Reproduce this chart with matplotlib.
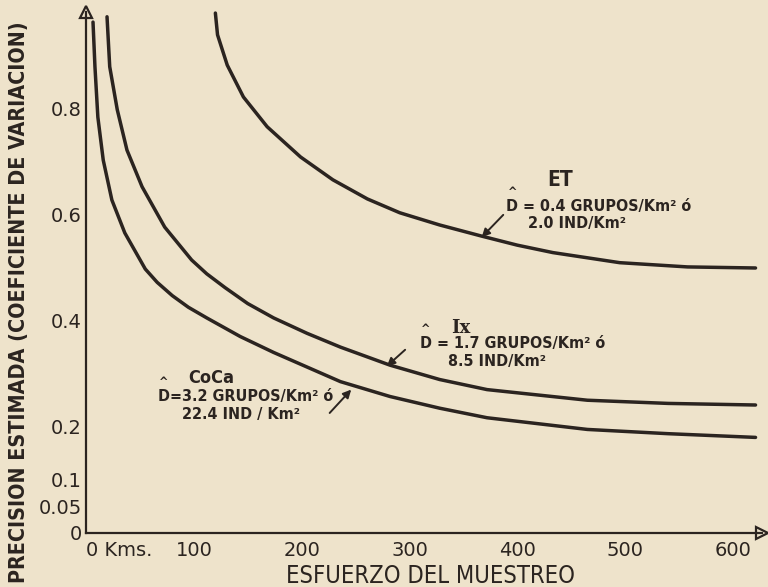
import matplotlib
matplotlib.use("Agg")
import matplotlib.pyplot as plt

# ---- data ----
coca_x = [6.5, 8.3, 11, 16, 24, 36, 55, 66, 80, 95, 112, 143, 174, 236, 282, 328, 372, 465, 540, 621]
coca_y = [0.962, 0.878, 0.783, 0.702, 0.627, 0.565, 0.497, 0.472, 0.447, 0.425, 0.405, 0.370,
          0.340, 0.285, 0.257, 0.235, 0.217, 0.195, 0.187, 0.180]

ix_x = [19.5, 22, 29, 38, 52, 73, 98, 112, 129, 150, 174, 205, 236, 282, 328, 372, 465, 540, 621]
ix_y = [0.972, 0.878, 0.797, 0.721, 0.652, 0.576, 0.514, 0.488, 0.462, 0.432, 0.405, 0.376,
        0.350, 0.316, 0.289, 0.270, 0.250, 0.244, 0.241]

et_x = [120, 122, 131, 146, 168, 199, 229, 261, 291, 328, 367, 400, 433, 495, 558, 621]
et_y = [0.979, 0.938, 0.881, 0.821, 0.765, 0.708, 0.665, 0.629, 0.603, 0.580, 0.559, 0.542,
        0.528, 0.509, 0.501, 0.499]

x_ticks = [0, 100, 200, 300, 400, 500, 600]
x_tick_labels = ["0 Kms.", "100", "200", "300", "400", "500", "600"]
y_ticks = [0, 0.05, 0.1, 0.2, 0.4, 0.6, 0.8]
y_tick_labels = ["0", "0.05", "0.1", "0.2", "0.4", "0.6", "0.8"]

BG = "#eee3cb"
INK = "#2b2420"

fig = plt.figure(figsize=(7.68, 5.87), dpi=100, facecolor=BG)
ax = fig.add_axes([86 / 768, (587 - 533) / 587, (762 - 86) / 768, (533 - 12) / 587])
ax.set_facecolor(BG)
ax.set_xlim(0, 627)
ax.set_ylim(0, 0.981)

for s in ["top", "right"]:
    ax.spines[s].set_visible(False)
for s in ["left", "bottom"]:
    ax.spines[s].set_color(INK)
    ax.spines[s].set_linewidth(1.6)

ax.set_xticks(x_ticks)
ax.set_xticklabels(x_tick_labels)
ax.set_yticks(y_ticks)
ax.set_yticklabels(y_tick_labels)
ax.tick_params(length=0, pad=6, labelsize=14, colors=INK)
ax.tick_params(axis="y", pad=3)
ax.get_xticklabels()[0].set_ha("left")

# arrow heads at axis ends
ax.plot([0], [0.981], marker="^", ms=9, mfc=BG, mec=INK, mew=1.6, clip_on=False)
ax.plot([627], [0], marker=">", ms=9, mfc=BG, mec=INK, mew=1.6, clip_on=False)

lw = 2.5
for xs, ys in [(coca_x, coca_y), (ix_x, ix_y), (et_x, et_y)]:
    ax.plot(xs, ys, color=INK, lw=lw, solid_capstyle="round", solid_joinstyle="round", clip_on=False)

cond = dict(fontstretch="condensed", color=INK)
fs = 11.5

# annotation arrows
arrowprops = dict(arrowstyle="-|>", color=INK, lw=1.4, mutation_scale=12, shrinkA=0, shrinkB=0)
ax.annotate("", xy=(367, 0.557), xytext=(387, 0.599), arrowprops=arrowprops)
ax.annotate("", xy=(279, 0.314), xytext=(296, 0.345), arrowprops=arrowprops)
ax.annotate("", xy=(246, 0.270), xytext=(226, 0.226), arrowprops=arrowprops)

# labels: ET
ax.text(440, 0.664, "ET", fontsize=15, fontweight="bold", ha="center", va="center", **cond)
ax.text(391, 0.642, "^", fontsize=9, fontweight="bold", ha="left", va="center", **cond)
ax.text(390, 0.614, "D = 0.4 GRUPOS/Km² ó", fontsize=fs, fontweight="bold", ha="left", va="center", **cond)
ax.text(410, 0.582, "2.0 IND/Km²", fontsize=fs, fontweight="bold", ha="left", va="center", **cond)

# labels: Ix
ax.text(348, 0.386, "Ix", fontsize=13, fontweight="bold", ha="center", va="center", family="DejaVu Serif", color=INK)
ax.text(311, 0.383, "^", fontsize=9, fontweight="bold", ha="left", va="center", **cond)
ax.text(310, 0.356, "D = 1.7 GRUPOS/Km² ó", fontsize=fs, fontweight="bold", ha="left", va="center", **cond)
ax.text(336, 0.322, "8.5 IND/Km²", fontsize=fs, fontweight="bold", ha="left", va="center", **cond)

# labels: CoCa
ax.text(116, 0.292, "CoCa", fontsize=13, fontweight="bold", ha="center", va="center", **cond)
ax.text(68, 0.284, "^", fontsize=9, fontweight="bold", ha="left", va="center", **cond)
ax.text(67, 0.257, "D=3.2 GRUPOS/Km² ó", fontsize=fs, fontweight="bold", ha="left", va="center", **cond)
ax.text(89, 0.224, "22.4 IND / Km²", fontsize=fs, fontweight="bold", ha="left", va="center", **cond)

# axis titles
fig.text(430 / 768, 1 - 576 / 587, "ESFUERZO DEL MUESTREO", fontsize=17, ha="center", va="center", **cond)
fig.text(19 / 768, 1 - 302 / 587, "PRECISION ESTIMADA (COEFICIENTE DE VARIACION)", fontsize=15.4,
         fontweight="bold", rotation=90, ha="center", va="center", **cond)

fig.savefig("out.png", dpi=100, facecolor=BG)
